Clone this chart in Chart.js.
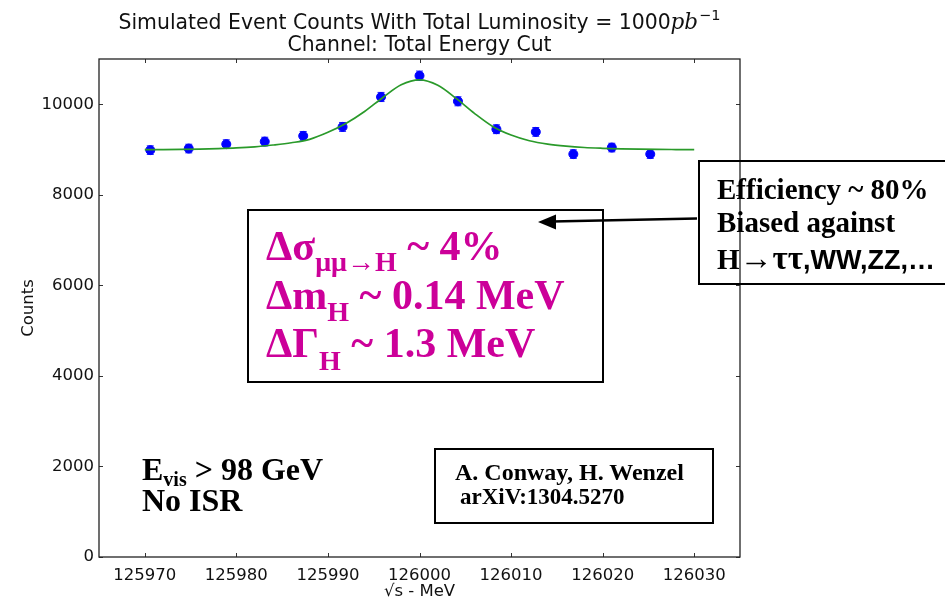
<!DOCTYPE html>
<html>
<head>
<meta charset="utf-8">
<script src="https://cdn.jsdelivr.net/npm/chart.js@4.4.1/dist/chart.umd.min.js"></script>
<style>
  html, body { margin:0; padding:0; background:#fff; }
  #wrap { position:relative; width:945px; height:598px; overflow:hidden; }
  #c { position:absolute; left:0; top:0; }
  .box { position:absolute; border:2px solid #000; box-sizing:border-box; }
  .ann { position:absolute; white-space:nowrap; line-height:0; font-family:'Liberation Serif','Times New Roman',serif; font-weight:bold; }
  .ann span { line-height:0; }
  .mag { color:#cc0099; font-size:42px; }
  .blk { color:#000; }
  svg { position:absolute; left:0; top:0; }
</style>
</head>
<body>
<div id="wrap">
  <canvas id="c" width="945" height="598"></canvas>
  <div class="box" style="left:247px;top:209px;width:357px;height:174px;"></div>
  <div class="box" style="left:698px;top:160px;width:262px;height:125px;"></div>
  <div class="box" style="left:434px;top:448px;width:280px;height:76px;"></div>
  <svg width="945" height="598">
    <line x1="697" y1="218.5" x2="552" y2="221.5" stroke="#000" stroke-width="2.5"/>
    <polygon points="538,222 556,214.5 556,229.5" fill="#000"/>
  </svg>
  <div class="ann mag" style="left:266px;top:246px;">Δσ<span style="font-size:28px;vertical-align:-11px;">μμ→H</span> ~ 4%</div>
  <div class="ann mag" style="left:266px;top:294.5px;">Δm<span style="font-size:28px;vertical-align:-12px;">H</span> ~ 0.14 MeV</div>
  <div class="ann mag" style="left:266px;top:343px;">ΔΓ<span style="font-size:28px;vertical-align:-13px;">H</span> ~ 1.3 MeV</div>
  <div class="ann blk" style="left:717px;top:188.5px;font-size:29px;">Efficiency ~ 80%</div>
  <div class="ann blk" style="left:717px;top:222px;font-size:29px;">Biased against</div>
  <div class="ann blk" style="left:717px;top:257.5px;font-size:29px;">H<span style="font-size:33px;">→ττ</span><span style="font-family:'Liberation Sans',Arial,sans-serif;font-size:27px;">,WW,ZZ,…</span></div>
  <div class="ann blk" style="left:142px;top:469px;font-size:32px;">E<span style="font-size:20px;vertical-align:-6px;">vis</span> &gt; 98 GeV</div>
  <div class="ann blk" style="left:142px;top:500px;font-size:32px;">No ISR</div>
  <div class="ann blk" style="left:455px;top:472px;font-size:24px;">A. Conway, H. Wenzel</div>
  <div class="ann blk" style="left:460px;top:497px;font-size:23px;">arXiV:1304.5270</div>
</div>
<script>
// ---- data ----
const energies = [125970.6, 125974.8, 125978.9, 125983.1, 125987.3, 125991.6, 125995.8,
                  126000.0, 126004.2, 126008.4, 126012.7, 126016.8, 126021.0, 126025.2];
const counts   = [8987, 9022, 9119, 9176, 9302, 9500, 10161,
                  10630, 10066, 9449, 9390, 8899, 9044, 8899];
const countErrors = [95, 95, 96, 96, 97, 98, 101, 103, 100, 97, 97, 94, 95, 94];

const fitEnergies = [125970, 125972, 125974, 125976, 125978, 125980, 125982, 125984, 125986, 125988,
                     125990, 125992, 125994, 125996, 125998, 126000, 126002, 126004, 126006, 126008,
                     126010, 126012, 126014, 126016, 126018, 126020, 126022, 126024, 126026, 126028, 126030];
const fitCounts   = [8998, 9000, 9004, 9010, 9020, 9035, 9060, 9100, 9150, 9225,
                     9380, 9580, 9840, 10150, 10430, 10540, 10420, 10130, 9800, 9510,
                     9320, 9195, 9120, 9075, 9045, 9028, 9016, 9008, 9003, 9000, 8998];

const xTickValues = [125970, 125980, 125990, 126000, 126010, 126020, 126030];
const yTickValues = [0, 2000, 4000, 6000, 8000, 10000];

const titleLine1 = 'Simulated Event Counts With Total Luminosity = 1000';
const titleMath = 'pb';
const titleSup = '−1';
const titleLine2 = 'Channel: Total Energy Cut';
const xTitle = '√s - MeV';
const yTitle = 'Counts';

// ---- chart ----
Chart.defaults.font.family = "'DejaVu Sans', sans-serif";
Chart.defaults.color = '#111';

const pointData = energies.map((x, i) => ({x: x, y: counts[i]}));
const fitData = fitEnergies.map((x, i) => ({x: x, y: fitCounts[i]}));

const errorBars = {
  id: 'errorBars',
  beforeDatasetsDraw(chart) {
    const {ctx, scales: {x, y}} = chart;
    ctx.save();
    ctx.strokeStyle = '#2020ff';
    ctx.lineWidth = 1;
    energies.forEach((e, i) => {
      const px = x.getPixelForValue(e);
      const y1 = y.getPixelForValue(counts[i] - countErrors[i]);
      const y2 = y.getPixelForValue(counts[i] + countErrors[i]);
      ctx.beginPath();
      ctx.moveTo(px, y1); ctx.lineTo(px, y2);
      ctx.moveTo(px - 3.5, y1); ctx.lineTo(px + 3.5, y1);
      ctx.moveTo(px - 3.5, y2); ctx.lineTo(px + 3.5, y2);
      ctx.stroke();
    });
    ctx.restore();
  }
};

const frame = {
  id: 'frame',
  afterDatasetsDraw(chart) {
    const {ctx, chartArea: a, scales: {x, y}} = chart;
    ctx.save();
    ctx.strokeStyle = '#333';
    ctx.lineWidth = 1;
    ctx.beginPath();
    xTickValues.forEach(v => {
      const px = Math.round(x.getPixelForValue(v)) + 0.5;
      ctx.moveTo(px, a.bottom); ctx.lineTo(px, a.bottom - 4);
      ctx.moveTo(px, a.top); ctx.lineTo(px, a.top + 4);
    });
    yTickValues.forEach(v => {
      const py = Math.round(y.getPixelForValue(v)) + 0.5;
      ctx.moveTo(a.left, py); ctx.lineTo(a.left + 4, py);
      ctx.moveTo(a.right, py); ctx.lineTo(a.right - 4, py);
    });
    ctx.stroke();
    ctx.lineWidth = 1.3;
    ctx.strokeStyle = '#222';
    ctx.strokeRect(a.left, a.top, a.right - a.left, a.bottom - a.top);
    ctx.restore();
  },
  afterDraw(chart) {
    const {ctx, chartArea: a} = chart;
    const cx = (a.left + a.right) / 2;
    ctx.save();
    ctx.fillStyle = '#111';
    ctx.textBaseline = 'alphabetic';
    const f1 = "20.4px 'DejaVu Sans'";
    const fm = "italic 21.5px 'DejaVu Serif'";
    const fs = "14.5px 'DejaVu Sans'";
    ctx.font = f1; const w1 = ctx.measureText(titleLine1).width;
    ctx.font = fm; const wm = ctx.measureText(titleMath).width;
    ctx.font = fs; const ws = ctx.measureText(titleSup).width;
    let sx = cx - (w1 + wm + ws + 1) / 2;
    ctx.textAlign = 'left';
    ctx.font = f1; ctx.fillText(titleLine1, sx, 28.5); sx += w1;
    ctx.font = fm; ctx.fillText(titleMath, sx, 28.5); sx += wm + 1;
    ctx.font = fs; ctx.fillText(titleSup, sx, 20);
    ctx.font = f1; ctx.textAlign = 'center';
    ctx.fillText(titleLine2, cx, 51);
    ctx.restore();
  }
};

new Chart(document.getElementById('c'), {
  type: 'scatter',
  data: {
    datasets: [
      {
        label: 'fit', data: fitData, showLine: true, order: 0,
        borderColor: '#2a9a2a', borderWidth: 1.7, pointRadius: 0,
        cubicInterpolationMode: 'monotone', fill: false
      },
      {
        label: 'data', data: pointData, order: 1,
        backgroundColor: '#0000ff', borderColor: '#0000ff', borderWidth: 1,
        pointRadius: 4.5, showLine: false
      }
    ]
  },
  options: {
    responsive: false,
    animation: false,
    devicePixelRatio: 1,
    layout: { padding: { top: 59, right: 205, left: 0, bottom: 0 } },
    plugins: { legend: { display: false }, tooltip: { enabled: false }, title: { display: false } },
    scales: {
      x: {
        type: 'linear', min: 125965, max: 126035,
        grid: { display: false, drawTicks: false },
        border: { display: false },
        afterBuildTicks: s => { s.ticks = xTickValues.map(v => ({value: v})); },
        afterFit: s => { s.height = 41; },
        ticks: { padding: 9, font: { size: 16.5 }, color: '#111', callback: v => String(v), maxRotation: 0, autoSkip: false },
        title: { display: true, text: xTitle, font: { size: 16.5, lineHeight: 1.0 }, color: '#111', padding: { top: 0, bottom: -2 } }
      },
      y: {
        type: 'linear', min: 0, max: 11000,
        grid: { display: false, drawTicks: false },
        border: { display: false },
        afterBuildTicks: s => { s.ticks = yTickValues.map(v => ({value: v})); },
        afterFit: s => { s.width = 99; },
        ticks: { padding: 5, font: { size: 16.5 }, color: '#111', callback: v => String(v) },
        title: { display: true, text: yTitle, font: { size: 16.5 }, color: '#111', padding: { top: 19, bottom: 0 } }
      }
    }
  },
  plugins: [errorBars, frame]
});
</script>
</body>
</html>
